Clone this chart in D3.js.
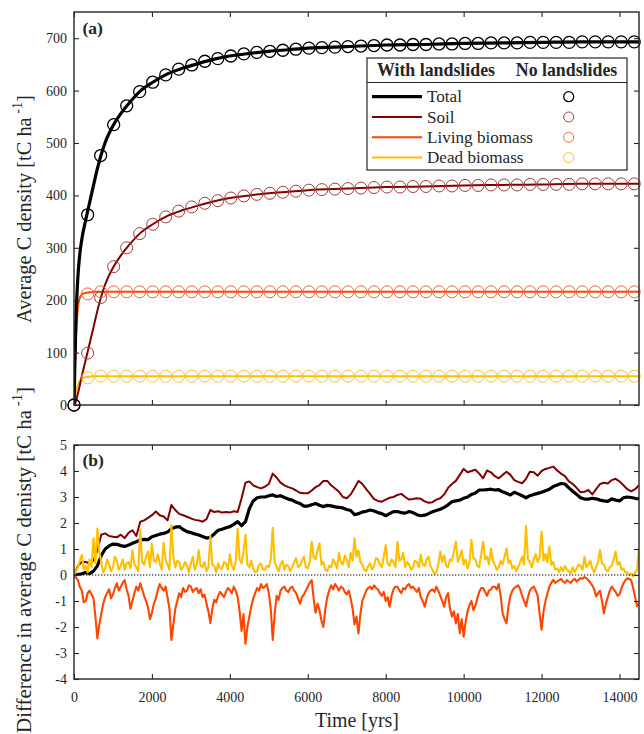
<!DOCTYPE html>
<html>
<head>
<meta charset="utf-8">
<script src="https://cdn.jsdelivr.net/npm/d3@7"></script>
<style>
  body { margin: 0; background: #fff; }
  svg { display: block; }
  text { font-family: "Liberation Serif", serif; fill: #262626; }
</style>
</head>
<body>
<svg id="chart" width="644" height="734"></svg>
<script>
// ---------- Panel (a): average carbon density, no-landslide runs (markers) ----------
const markerYears = [0, 350, 684, 1018, 1352, 1686, 2020, 2354, 2688, 3022,
  3356, 3690, 4024, 4358, 4692, 5026, 5360, 5694, 6028, 6362,
  6696, 7030, 7364, 7698, 8032, 8366, 8700, 9034, 9368, 9702,
  10036, 10370, 10704, 11038, 11372, 11706, 12040, 12374, 12708, 13042,
  13376, 13710, 14044, 14378];
const totalNoLs = [0, 363, 476, 535, 571, 598, 616, 630, 641, 649,
  656, 661, 666, 670, 673, 675, 677, 679, 681, 682,
  683, 684, 685, 686, 687, 687, 688, 688, 689, 689,
  690, 690, 691, 691, 691, 692, 692, 692, 692, 693,
  693, 693, 693, 693];
const soilNoLs = [0, 99, 205, 264, 300, 327, 345, 359, 370, 378,
  385, 390, 395, 399, 402, 404, 406, 408, 410, 411,
  412, 413, 414, 415, 416, 416, 417, 417, 418, 418,
  419, 419, 420, 420, 420, 421, 421, 421, 421, 422,
  422, 422, 422, 422];
const livingNoLs = [0, 212, 216, 216, 216, 216, 216, 216, 216, 216,
  216, 216, 216, 216, 216, 216, 216, 216, 216, 216,
  216, 216, 216, 216, 216, 216, 216, 216, 216, 216,
  216, 216, 216, 216, 216, 216, 216, 216, 216, 216,
  216, 216, 216, 216];
const deadNoLs = [0, 52, 55, 55, 55, 55, 55, 55, 55, 55,
  55, 55, 55, 55, 55, 55, 55, 55, 55, 55,
  55, 55, 55, 55, 55, 55, 55, 55, 55, 55,
  55, 55, 55, 55, 55, 55, 55, 55, 55, 55,
  55, 55, 55, 55];

// ---------- Panel (a): runs with landslides (lines) ----------
const lineYears = [0, 20, 50, 100, 150, 200, 300, 400, 500, 600,
  800, 1000, 1200, 1400, 1700, 2000, 2400, 2800, 3200, 3600,
  4000, 4500, 5000, 5500, 6000, 7000, 8000, 9000, 10000, 11000,
  12000, 13000, 14000, 14500];
const totalLs = [0, 71, 163, 245, 289, 316, 353, 386, 419, 451,
  501, 533, 556, 575, 599, 615, 632, 643, 652, 660,
  666, 671, 675, 678, 681, 684, 687, 688, 690, 691,
  692, 693, 693, 693];
const soilLs = [0, 1, 8, 22, 38, 55, 86, 117, 148, 180,
  230, 262, 285, 304, 328, 344, 361, 372, 381, 389,
  395, 400, 404, 407, 410, 413, 416, 417, 419, 420,
  421, 422, 422, 422];
const livingLs = [0, 60, 130, 185, 205, 211, 214, 215, 216, 216,
  216, 216, 216, 216, 216, 216, 216, 216, 216, 216,
  216, 216, 216, 216, 216, 216, 216, 216, 216, 216,
  216, 216, 216, 216];
const deadLs = [0, 10, 25, 38, 46, 50, 53, 54, 55, 55,
  55, 55, 55, 55, 55, 55, 55, 55, 55, 55,
  55, 55, 55, 55, 55, 55, 55, 55, 55, 55,
  55, 55, 55, 55];

// ---------- Panel (b): difference (with - without landslides) ----------
// soil and total pools, one value every 100 yrs
const diffYears = d3.range(0, 14501, 100);
const diffSoil = [0, 0.35, 0.5, 0.5, 0.45, 0.55, 0.95, 1.55, 1.6, 1.5,
  1.47, 1.45, 1.55, 1.42, 1.62, 1.72, 1.5, 2.05, 2.1, 2.2,
  2.3, 2.44, 2.3, 2.25, 2.1, 2.69, 2.5, 2.35, 2.3, 2.24,
  2.18, 2.12, 2.1, 2.05, 2.15, 2.5, 2.42, 2.45, 2.4, 2.42,
  2.4, 2.45, 2.42, 2.95, 3.55, 3.6, 3.45, 3.38, 3.33, 3.4,
  3.5, 3.9, 3.75, 3.55, 3.45, 3.38, 3.33, 3.25, 3.16, 3.14,
  3.14, 3.25, 3.38, 3.46, 3.62, 3.62, 3.45, 3.33, 3.2, 3.0,
  2.95, 3.1, 3.35, 3.62, 3.5, 3.3, 3.12, 2.92, 2.85, 2.82,
  2.9, 2.97, 3.0, 3.08, 3.12, 3.0, 2.9, 2.92, 2.95, 2.93,
  2.83, 2.78, 2.8, 2.9, 2.95, 3.1, 3.35, 3.5, 3.62, 3.85,
  4.08, 3.95, 4.0, 4.05, 3.9, 3.72, 4.02, 3.95, 3.8, 3.72,
  3.85, 3.97, 3.85, 3.65, 3.58, 3.53, 3.7, 3.97, 3.95, 3.82,
  4.0, 4.08, 4.12, 4.17, 4.02, 3.9, 3.8, 3.6, 3.5, 3.35,
  3.18, 3.2, 3.27, 3.1, 3.3, 3.5, 3.55, 3.52, 3.65, 3.7,
  3.6, 3.45, 3.3, 3.22, 3.3, 3.45];
const diffTotal = [0, 0.02, 0.05, 0.1, 0.05, 0.15, 0.35, 0.75, 1.0, 1.12,
  1.19, 1.18, 1.13, 1.1, 1.15, 1.22, 1.28, 1.35, 1.37, 1.36,
  1.47, 1.52, 1.57, 1.6, 1.65, 1.78, 1.84, 1.86, 1.75, 1.67,
  1.63, 1.58, 1.54, 1.48, 1.42, 1.45, 1.58, 1.72, 1.76, 1.82,
  1.86, 1.95, 2.05, 1.9, 2.05, 2.55, 2.85, 2.97, 3.0, 3.0,
  3.05, 3.08, 3.02, 3.05, 2.98, 2.92, 2.88, 2.8, 2.75, 2.65,
  2.65, 2.7, 2.75, 2.68, 2.63, 2.68, 2.66, 2.62, 2.6, 2.58,
  2.52, 2.48, 2.32, 2.36, 2.42, 2.45, 2.5, 2.46, 2.4, 2.36,
  2.28, 2.36, 2.44, 2.44, 2.4, 2.38, 2.44, 2.4, 2.32, 2.28,
  2.3, 2.36, 2.43, 2.48, 2.53, 2.6, 2.7, 2.82, 2.85, 2.88,
  2.95, 3.0, 3.1, 3.15, 3.27, 3.27, 3.28, 3.3, 3.27, 3.28,
  3.2, 3.14, 3.08, 3.18, 3.12, 3.05, 2.97, 3.05, 3.1, 3.14,
  3.18, 3.24, 3.3, 3.4, 3.46, 3.52, 3.5, 3.35, 3.22, 3.1,
  2.97, 2.92, 2.92, 2.95, 2.93, 2.88, 2.85, 2.83, 2.93, 2.88,
  2.85, 2.97, 3.0, 2.98, 2.95, 2.93];

// biomass pools, one value every 50 yrs
const diffYearsFine = d3.range(0, 14501, 50);
const diffDead = [0, 0.15, 0.3, 0.55, 0.77, 0.2, 0.35, 0.1, 0.6, 0.3,
  1.41, 0.45, 1.79, 0.9, 0.5, 0.1, 0.25, 0.6, 0.4, 0.15,
  0.3, 0.7, 0.55, 0.2, 0.35, 0.6, 0.2, 0.45, 0.5, 0.25,
  0.95, 0.4, 0.3, 0.15, 1.75, 0.5, 0.4, 0.7, 0.9, 0.3,
  1.2, 0.55, 0.5, 0.8, 0.45, 0.2, 1.25, 0.6, 0.4, 0.2,
  1.92, 0.7, 0.3, 0.55, 0.5, 0.2, 0.3, 0.5, 0.35, 0.1,
  0.45, 0.7, 0.2, 0.4, 0.95, 0.35, 0.3, 0.5, 0.15, 0.3,
  1.5, 0.4, 0.35, 0.1, 0.45, 0.25, 0.25, 0.5, 0.45, 0.2,
  0.8, 0.35, 0.2, 0.5, 1.78, 0.6, 0.45, 0.9, 1.55, 0.4,
  0.3, 0.55, 0.25, 0.1, 0.15, 0.4, 0.45, 0.2, 0.2, 0.35,
  0.3, 0.6, 1.82, 0.5, 0.3, 0.15, 0.4, 0.55, 0.2, 0.4,
  0.35, 0.15, 0.3, 0.5, 0.65, 0.3, 0.35, 0.55, 0.7, 0.3,
  0.25, 0.5, 1.28, 0.7, 0.6, 0.95, 1.22, 0.4, 0.5, 0.2,
  0.15, 0.35, 0.3, 0.6, 0.45, 0.25, 0.85, 0.5, 0.4, 0.75,
  0.6, 0.3, 0.85, 0.55, 1.41, 0.7, 0.95, 0.5, 0.4, 0.2,
  0.15, 0.35, 0.45, 0.2, 0.35, 0.65, 0.6, 0.4, 0.3, 0.7,
  1.15, 0.45, 0.35, 0.6, 0.5, 0.3, 1.28, 0.55, 0.6, 0.85,
  0.3, 0.5, 0.4, 0.2, 0.3, 0.55, 0.5, 0.3, 0.78, 0.4,
  0.35, 0.6, 0.7, 0.35, 0.2, 0.05, 0.1, 0.4, 0.9, 0.5,
  0.75, 0.35, 0.3, 0.6, 0.55, 0.9, 1.28, 0.5, 0.7, 0.95,
  0.4, 0.6, 0.25, 0.5, 1.35, 0.65, 0.6, 0.35, 0.3, 0.8,
  1.28, 0.6, 0.7, 0.4, 1.03, 0.55, 0.4, 0.2, 0.3, 0.55,
  0.4, 0.7, 1.03, 0.45, 0.55, 0.25, 0.35, 0.15, 0.3, 0.5,
  0.7, 0.4, 1.88, 0.6, 0.5, 0.3, 0.6, 0.8, 0.5, 0.7,
  1.67, 0.55, 0.8, 0.5, 1.09, 0.4, 0.5, 0.2, 0.25, 0.1,
  0.3, 0.15, 0.35, 0.2, 0.15, 0.05, 0.3, 0.1, 0.25, 0.4,
  0.35, 0.2, 0.7, 0.3, 0.4, 0.55, 0.25, 0.1, 0.3, 0.5,
  0.96, 0.45, 0.4, 0.2, 0.15, 0.3, 0.35, 0.6, 0.9, 0.4,
  0.5, 0.2, 0.25, 0.1, 0.1, 0.0, 0.05, -0.05, 0.1, 0.2,
  1.03];
const diffLiving = [0, -0.1, -0.2, -0.45, -0.6, -1.05, -1.0, -0.7, -0.6, -0.75,
  -0.9, -1.6, -2.44, -1.9, -1.5, -1.1, -0.85, -0.7, -0.55, -0.9,
  -0.75, -0.5, -0.32, -0.6, -0.45, -0.3, -0.2, -0.55, -0.8, -1.3,
  -1.0, -0.7, -0.45, -0.6, -0.32, -0.55, -0.8, -1.0, -1.25, -1.7,
  -1.45, -1.1, -0.9, -0.6, -0.35, -0.5, -0.6, -0.45, -0.85, -1.3,
  -2.5, -1.9, -1.3, -1.0, -0.7, -0.85, -0.5, -0.65, -0.6, -0.4,
  -0.45, -0.65, -0.55, -0.5, -0.7, -0.55, -0.85, -0.75, -1.1, -1.4,
  -1.85, -1.3, -0.95, -1.05, -0.8, -0.65, -0.75, -0.85, -0.65, -0.5,
  -0.58, -0.7, -0.45, -0.6, -0.85, -1.4, -2.15, -1.5, -2.65, -2.0,
  -1.6, -1.2, -0.9, -0.7, -0.5, -0.6, -0.35, -0.5, -0.45, -0.35,
  -0.7, -1.3, -2.5, -1.5, -0.8, -0.95, -0.6, -0.5, -0.45, -0.6,
  -0.65, -0.5, -0.45, -0.6, -0.7, -0.9, -1.1, -0.85, -0.75, -0.6,
  -0.45, -0.3, -0.2, -0.9, -1.45, -1.1, -1.35, -1.75, -2.0, -1.3,
  -0.85, -0.6, -0.4, -0.55, -0.35, -0.45, -0.6, -0.45, -0.5, -0.65,
  -0.75, -0.6, -0.9, -1.3, -1.9, -1.6, -2.25, -1.5, -1.0, -0.8,
  -0.6, -0.5, -0.45, -0.55, -0.4, -0.5, -0.55, -0.7, -0.8, -0.65,
  -1.0, -0.85, -1.22, -0.8, -0.55, -0.45, -0.45, -0.6, -0.7, -0.5,
  -0.55, -0.4, -0.35, -0.5, -0.45, -0.55, -0.65, -0.5, -0.85, -1.0,
  -1.22, -0.9, -0.7, -0.6, -0.55, -0.65, -0.45, -0.6, -0.8, -1.0,
  -1.22, -0.85, -0.7, -1.3, -1.6, -1.4, -1.86, -1.5, -2.24, -1.7,
  -2.37, -1.8, -1.4, -1.15, -1.0, -1.35, -1.2, -0.9, -0.65, -0.5,
  -0.5, -0.65, -0.8, -0.6, -0.55, -0.45, -0.45, -0.55, -0.35, -0.8,
  -1.47, -1.7, -1.86, -1.2, -0.8, -0.6, -0.5, -0.45, -0.4, -0.55,
  -0.8, -1.0, -1.2, -0.85, -0.6, -0.5, -0.45, -0.6, -0.8, -1.5,
  -2.1, -1.4, -1.0, -0.7, -0.45, -0.3, -0.19, -0.3, -0.25, -0.2,
  -0.15, -0.25, -0.3, -0.2, -0.25, -0.3, -0.2, -0.15, -0.25, -0.18,
  -0.12, -0.15, -0.08, -0.12, -0.2, -0.3, -0.4, -0.55, -0.83, -0.7,
  -0.6, -1.0, -1.47, -1.1, -0.85, -0.6, -0.45, -0.55, -0.65, -0.8,
  -0.75, -0.5, -0.32, -0.2, -0.13, -0.15, -0.2, -0.5, -0.85, -1.2,
  -1.1];

// ---------- Tick values ----------
const xTicks = [0, 2000, 4000, 6000, 8000, 10000, 12000, 14000];
const yTicksA = [0, 100, 200, 300, 400, 500, 600, 700];
const yTicksB = [-4, -3, -2, -1, 0, 1, 2, 3, 4, 5];

// ---------- Styles ----------
const COL = { total: "#000000", soil: "#800000", living: "#ff4500", dead: "#ffbf00" };
const MCOL = { total: "#000000", soil: "#a23c3c", living: "#ec6545", dead: "#f6c333" };
const AXC = "#262626";
const TICK_FONT = '"DejaVu Serif", serif';

const svg = d3.select("#chart");
const x = d3.scaleLinear().domain([0, 14500]).range([74, 639]);
const yA = d3.scaleLinear().domain([0, 750]).range([405, 12]);
const yB = d3.scaleLinear().domain([-4, 5]).range([679, 445]);

// scale a text's font size so that its advance equals the given width
function fitText(sel, target) {
  const fs = parseFloat(sel.attr("font-size"));
  const w = sel.node().getComputedTextLength();
  sel.attr("font-size", (fs * target / w).toFixed(2));
}

const defs = svg.append("defs");
function clipFor(id, y) {
  defs.append("clipPath").attr("id", id).append("rect")
    .attr("x", x.range()[0]).attr("y", y.range()[1])
    .attr("width", x.range()[1] - x.range()[0])
    .attr("height", y.range()[0] - y.range()[1]);
}
clipFor("clipA", yA);
clipFor("clipB", yB);

function axes(y, yTicks, xLabels) {
  const g = svg.append("g");
  const [yb, yt] = y.range();
  const fmt = d => String(d);
  const styleAxis = a => {
    a.select(".domain").remove();
    a.selectAll(".tick line").attr("stroke", AXC).attr("stroke-width", 1.1);
    a.selectAll(".tick text").attr("fill", AXC).attr("font-size", 14)
      .attr("font-family", TICK_FONT);
  };
  g.append("g").attr("transform", `translate(${x.range()[0]},0)`)
    .call(d3.axisLeft(y).tickValues(yTicks).tickSizeInner(-5).tickSizeOuter(0).tickPadding(7).tickFormat(fmt))
    .call(styleAxis);
  g.append("g").attr("transform", `translate(${x.range()[1]},0)`)
    .call(d3.axisRight(y).tickValues(yTicks).tickSizeInner(-5).tickSizeOuter(0).tickFormat(""))
    .call(styleAxis);
  g.append("g").attr("transform", `translate(0,${yt})`)
    .call(d3.axisTop(x).tickValues(xTicks).tickSizeInner(-5).tickSizeOuter(0).tickFormat(""))
    .call(styleAxis);
  g.append("g").attr("transform", `translate(0,${yb})`)
    .call(d3.axisBottom(x).tickValues(xTicks).tickSizeInner(-5).tickSizeOuter(0).tickPadding(13)
      .tickFormat(xLabels ? fmt : ""))
    .call(styleAxis);
  g.append("rect")
    .attr("x", x.range()[0]).attr("y", yt)
    .attr("width", x.range()[1] - x.range()[0]).attr("height", yb - yt)
    .attr("fill", "none").attr("stroke", AXC).attr("stroke-width", 1.4);
  return g;
}

// ---------- Panel (a) ----------
const lineA = d3.line().curve(d3.curveMonotoneX);
const gA = svg.append("g");
const gAlines = gA.append("g").attr("clip-path", "url(#clipA)");
const seriesA = [
  { key: "dead", ls: deadLs, nl: deadNoLs, w: 2 },
  { key: "living", ls: livingLs, nl: livingNoLs, w: 2 },
  { key: "soil", ls: soilLs, nl: soilNoLs, w: 2 },
  { key: "total", ls: totalLs, nl: totalNoLs, w: 3.2 }
];
seriesA.forEach(s => {
  gAlines.append("path")
    .attr("d", lineA(lineYears.map((t, i) => [x(t), yA(s.ls[i])])))
    .attr("fill", "none").attr("stroke", COL[s.key]).attr("stroke-width", s.w)
    .attr("stroke-linejoin", "round");
});
seriesA.forEach(s => {
  gA.append("g").selectAll("circle")
    .data(markerYears.map((t, i) => [t, s.nl[i]]))
    .join("circle")
    .attr("cx", d => x(d[0])).attr("cy", d => yA(d[1])).attr("r", 6)
    .attr("fill", "none").attr("stroke", MCOL[s.key])
    .attr("stroke-width", s.key === "total" ? 1.3 : 1);
});
axes(yA, yTicksA, false);

svg.append("text").attr("x", 82.5).attr("y", 33.5).attr("font-size", 17.5)
  .attr("font-weight", "bold").attr("fill", "#1a1a1a").text("(a)");

// ---------- Legend ----------
const lg = svg.append("g");
const LX = 367, LY = 58, LW = 260, LH = 112;
lg.append("rect").attr("x", LX).attr("y", LY).attr("width", LW).attr("height", LH)
  .attr("fill", "#fff").attr("stroke", AXC).attr("stroke-width", 1.2);
lg.append("line").attr("x1", LX).attr("x2", LX + LW).attr("y1", 82.5).attr("y2", 82.5)
  .attr("stroke", AXC).attr("stroke-width", 1.2);
const h1 = lg.append("text").attr("x", 436).attr("y", 76).attr("text-anchor", "middle")
  .attr("font-size", 16).attr("font-weight", "bold").attr("fill", "#000").text("With landslides");
fitText(h1, 118);
lg.append("text").attr("x", 566.5).attr("y", 76).attr("text-anchor", "middle")
  .attr("font-size", h1.attr("font-size")).attr("font-weight", "bold").attr("fill", "#000")
  .text("No landslides");
const legendRows = [
  { key: "total", label: "Total", w: 3.2 },
  { key: "soil", label: "Soil", w: 2 },
  { key: "living", label: "Living biomass", w: 2 },
  { key: "dead", label: "Dead biomass", w: 2 }
];
const rowY = [96.7, 117, 137.3, 157.6];
const probe = lg.append("text").attr("font-size", 16).text("Living biomass");
fitText(probe, 106);
const rowFS = probe.attr("font-size");
probe.remove();
legendRows.forEach((r, i) => {
  const yy = rowY[i];
  lg.append("line").attr("x1", 372).attr("x2", 422).attr("y1", yy).attr("y2", yy)
    .attr("stroke", COL[r.key]).attr("stroke-width", r.w);
  lg.append("text").attr("x", 427).attr("y", yy + 5.5).attr("font-size", rowFS)
    .attr("fill", "#1a1a1a").text(r.label);
  lg.append("circle").attr("cx", 568.7).attr("cy", yy).attr("r", 5)
    .attr("fill", "none").attr("stroke", MCOL[r.key]).attr("stroke-width", r.key === "total" ? 1.3 : 1);
});

// ---------- Panel (b) ----------
const lineB = d3.line();
const gB = svg.append("g").attr("clip-path", "url(#clipB)");
[
  { t: diffYears, vals: diffSoil, key: "soil", w: 2 },
  { t: diffYears, vals: diffTotal, key: "total", w: 3.2 },
  { t: diffYearsFine, vals: diffDead, key: "dead", w: 2.1 },
  { t: diffYearsFine, vals: diffLiving, key: "living", w: 2.1 }
].forEach(s => {
  gB.append("path")
    .attr("d", lineB(s.t.map((t, i) => [x(t), yB(s.vals[i])])))
    .attr("fill", "none").attr("stroke", COL[s.key]).attr("stroke-width", s.w)
    .attr("stroke-linejoin", "round");
});
gB.append("line").attr("x1", x(0)).attr("x2", x(14500)).attr("y1", yB(0)).attr("y2", yB(0))
  .attr("stroke", "#000").attr("stroke-width", 1.2).attr("stroke-dasharray", "1.3,1.7");
axes(yB, yTicksB, true);

svg.append("text").attr("x", 82.5).attr("y", 465.5).attr("font-size", 17.5)
  .attr("font-weight", "bold").attr("fill", "#1a1a1a").text("(b)");

// ---------- Axis titles ----------
function yTitle(cx, cy, main, len) {
  const t = svg.append("text").attr("transform", `translate(${cx},${cy}) rotate(-90)`)
    .attr("text-anchor", "middle").attr("font-size", 18);
  t.append("tspan").text(main);
  t.append("tspan").attr("font-size", "70%").attr("dy", "-0.62em").text(" -1");
  t.append("tspan").attr("font-size", "100%").attr("dy", "0.434em").text("]");
  fitText(t, len);
}
yTitle(31, 209, "Average C density [tC ha", 228);
yTitle(31, 560, "Difference in average C denisty [tC ha", 346);

const xt = svg.append("text").attr("x", 357).attr("y", 727).attr("text-anchor", "middle")
  .attr("font-size", 18).text("Time [yrs]");
fitText(xt, 84);
</script>
</body>
</html>
